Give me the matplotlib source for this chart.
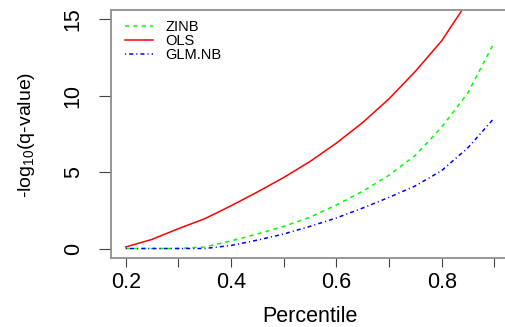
import numpy as np
import matplotlib
matplotlib.use('Agg')
import matplotlib.pyplot as plt

plt.rcParams['font.family'] = ['Liberation Sans', 'DejaVu Sans']
plt.rcParams['mathtext.fontset'] = 'custom'
plt.rcParams['mathtext.rm'] = 'Liberation Sans'
plt.rcParams['lines.scale_dashes'] = False

# percentile grid and -log10(q) for each model
percentile = [0.20, 0.25, 0.30, 0.35, 0.40, 0.45, 0.50, 0.55,
              0.60, 0.65, 0.70, 0.75, 0.80, 0.85, 0.90]
zinb = [0.0, 0.0, 0.0, 0.1, 0.5, 0.95, 1.45, 2.05,
        2.85, 3.75, 4.8, 6.1, 7.95, 10.2, 13.5]
ols = [0.1, 0.6, 1.3, 1.95, 2.8, 3.7, 4.65, 5.7,
       6.9, 8.25, 9.8, 11.6, 13.6, 16.2, 19.0]
glm_nb = [0.0, 0.0, 0.0, 0.0, 0.2, 0.55, 0.95, 1.45,
          2.0, 2.65, 3.35, 4.1, 5.1, 6.6, 8.55]

xticks = [0.2, 0.3, 0.4, 0.5, 0.6, 0.7, 0.8, 0.9]
xticklabels = ['0.2', '', '0.4', '', '0.6', '', '0.8', '']
yticks = [0, 5, 10, 15]

fig = plt.figure(figsize=(5.06, 3.27), dpi=100)
ax = fig.add_axes([0.2194, 0.212, 0.7866, 0.7565])

ax.plot(percentile, zinb, color='#00FF00', lw=1.1, ls=(0, (3, 3)), label='ZINB')
ax.plot(percentile, ols, color='#FF0000', lw=1.1, ls='-', label='OLS')
ax.plot(percentile, glm_nb, color='#0000FF', lw=1.1, ls=(0, (0.8, 2.2, 2.9, 2.2)), label='GLM.NB')

ax.set_xlim(0.172, 0.928)
ax.set_ylim(-0.6, 15.6)

for s in ['left', 'bottom', 'top']:
    ax.spines[s].set_color('#8f8f8f')
    ax.spines[s].set_linewidth(1.3)
ax.spines['right'].set_visible(False)

ax.set_xticks(xticks)
ax.set_xticklabels(xticklabels)
ax.set_yticks(yticks)
ax.tick_params(axis='x', length=6.5, width=0.8, color='#444444', pad=4, labelsize=15.5)
ax.tick_params(axis='y', length=8.6, width=0.8, color='#444444', pad=11, labelsize=15.5,
               labelrotation=90)
for lab in ax.get_yticklabels():
    lab.set_va('center')

fig.text(27 / 506, 0.587, r'-log$_{\mathregular{10}}$(q-value)', rotation=90,
         ha='center', va='center', fontsize=14)
fig.text(310 / 506, 1 - 316 / 327, 'Percentile', ha='center', va='center', fontsize=15.5)

ax.legend(loc='upper left', bbox_to_anchor=(0.012, 1.0), frameon=False, fontsize=10.5,
          handlelength=1.9, handletextpad=0.85, labelspacing=0.0, borderaxespad=0.25)

fig.savefig('out.png', dpi=100)
